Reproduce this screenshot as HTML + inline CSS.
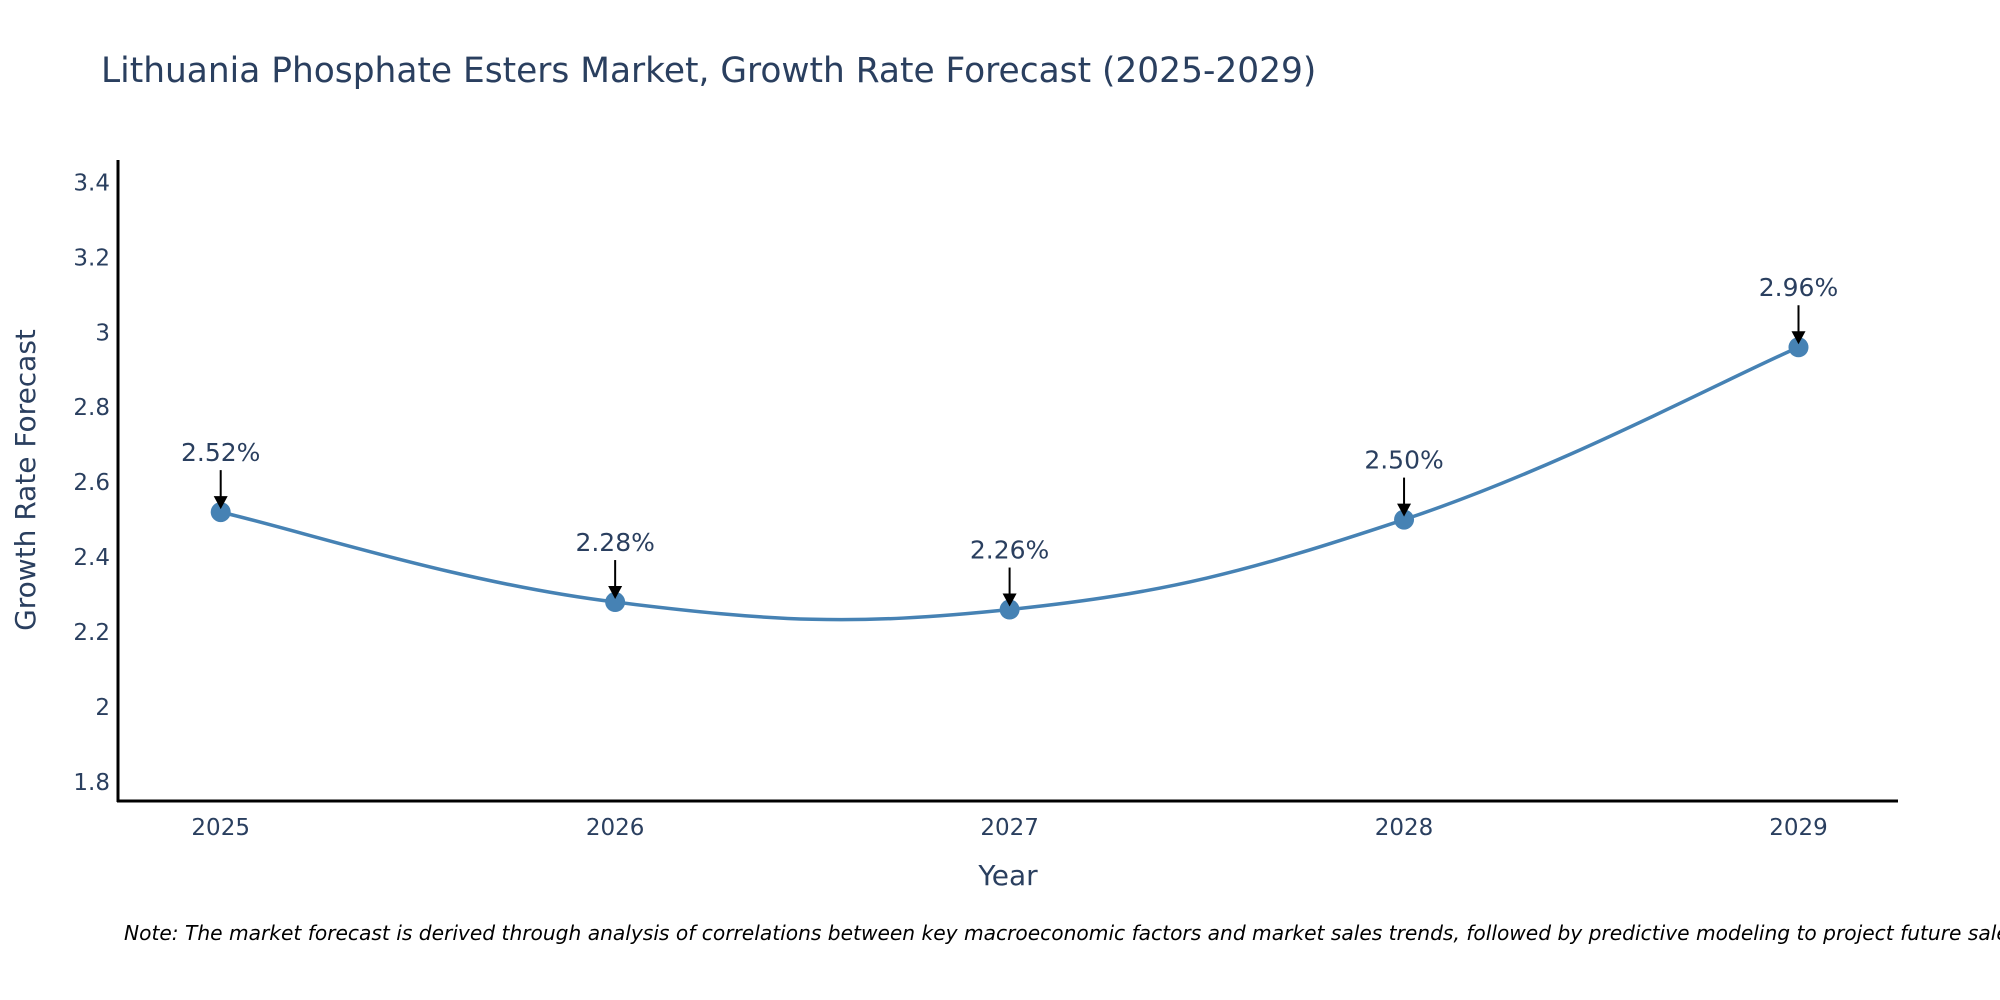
<!DOCTYPE html>
<html><head><meta charset="utf-8"><style>
body{margin:0;background:#fff;}
svg{display:block;font-family:"DejaVu Sans","Liberation Sans",sans-serif;}
</style></head><body>
<svg width="2000" height="1000" viewBox="0 0 2000 1000">
<rect width="2000" height="1000" fill="#fff"/>
<text x="101" y="82" font-size="34.4" fill="#2a3f5f">Lithuania Phosphate Esters Market, Growth Rate Forecast (2025-2029)</text>
<g id="yticks"></g><g id="xticks"></g>
<line x1="118" y1="160" x2="118" y2="802" stroke="#000" stroke-width="3"/>
<line x1="117" y1="801" x2="1898" y2="801" stroke="#000" stroke-width="3"/>
<text transform="translate(35,480) rotate(-90)" text-anchor="middle" font-size="28" fill="#2a3f5f">Growth Rate Forecast</text>
<text x="1008" y="885" text-anchor="middle" font-size="28" fill="#2a3f5f">Year</text>
<g id="plot"></g>
<text x="124" y="940" font-size="20.2" font-style="italic" fill="#000">Note: The market forecast is derived through analysis of correlations between key macroeconomic factors and market sales trends, followed by predictive modeling to project future sales.</text>
</svg>
<script>
const years=[2025,2026,2027,2028,2029];
const values=[2.52,2.28,2.26,2.50,2.96];
const labels=["2.52%","2.28%","2.26%","2.50%","2.96%"];
const yTicks=[1.8,2,2.2,2.4,2.6,2.8,3,3.2,3.4];
const NS="http://www.w3.org/2000/svg";
function xs(v){return 220.7+(v-2025)*(1798.5-220.7)/4;}
function ys(v){return 781.9-(v-1.8)*374.7;}
function mk(t,a,p){const e=document.createElementNS(NS,t);for(const k in a)e.setAttribute(k,a[k]);p.appendChild(e);return e;}
const yt=document.getElementById('yticks');
yTicks.forEach(v=>{const t=mk('text',{x:110,y:ys(v)+8,'text-anchor':'end','font-size':23,fill:'#2a3f5f'},yt);


t.textContent=String(v);});
const xt=document.getElementById('xticks');
years.forEach(v=>{const t=mk('text',{x:xs(v),y:835,'text-anchor':'middle','font-size':23,fill:'#2a3f5f'},xt);


t.textContent=String(v);});
const plot=document.getElementById('plot');
const P=years.map((y,i)=>[xs(y),ys(values[i])]);
let d=`M${P[0][0]},${P[0][1]}`;
const s=0.2;
for(let i=0;i<P.length-1;i++){
const p0=P[Math.max(i-1,0)],p1=P[i],p2=P[i+1],p3=P[Math.min(i+2,P.length-1)];
const c1=[p1[0]+(p2[0]-p0[0])*s,p1[1]+(p2[1]-p0[1])*s];
const c2=[p2[0]-(p3[0]-p1[0])*s,p2[1]-(p3[1]-p1[1])*s];
d+=` C${c1[0]},${c1[1]} ${c2[0]},${c2[1]} ${p2[0]},${p2[1]}`;}
const line=mk('path',{d:d,fill:'none',stroke:'#4682b4','stroke-width':3.5},plot);


P.forEach((p,i)=>{
const c=mk('circle',{cx:p[0],cy:p[1],r:10,fill:'#4682b4'},plot);


const a=mk('line',{x1:p[0],y1:p[1]-42,x2:p[0],y2:p[1]-14,stroke:'#000','stroke-width':2},plot);


const h=mk('polygon',{points:`${p[0]-7},${p[1]-16} ${p[0]+7},${p[1]-16} ${p[0]},${p[1]-3}`,fill:'#000'},plot);


const t=mk('text',{x:p[0],y:p[1]-51,'text-anchor':'middle','font-size':25,fill:'#2a3f5f'},plot);


t.textContent=labels[i];});
</script>
</body></html>
